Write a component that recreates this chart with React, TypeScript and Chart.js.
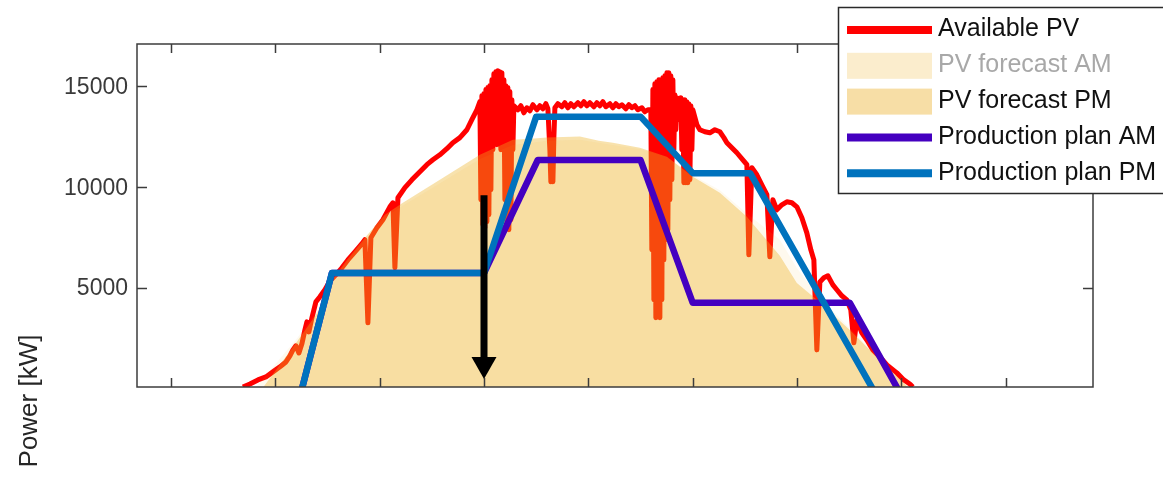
import React, { useEffect, useRef } from "react";
import { Chart, registerables } from "chart.js";

Chart.register(...registerables);

// ---- data (time in hours, power in kW) ----
const seriesLabels = [
  "Available PV",
  "PV forecast AM",
  "PV forecast PM",
  "Production plan AM",
  "Production plan PM",
];

const pvTimes = [
  // morning rise
  5.38, 5.514, 5.667, 5.82, 5.954, 6.089, 6.204, 6.28, 6.338, 6.395, 6.453, 6.51, 6.568, 6.606, 6.644, 6.702,
  6.778, 6.855, 6.951, 7.047, 7.162, 7.277, 7.391, 7.526, 7.66, 7.717, 7.775, 7.832, 7.947, 8.062, 8.196, 8.254,
  8.292, 8.35, 8.484, 8.618, 8.771, 8.905, 9.02, 9.154, 9.288, 9.403, 9.538, 9.672, 9.767, 9.863,
  // first cloud burst
  9.921, 9.94, 9.959, 9.978, 9.997, 10.017, 10.036, 10.055, 10.074, 10.093, 10.112, 10.132, 10.151, 10.17,
  10.189, 10.208, 10.227, 10.246, 10.266, 10.285, 10.304, 10.323, 10.342, 10.361, 10.381, 10.4, 10.419, 10.438,
  10.457, 10.476, 10.495, 10.515, 10.534, 10.553, 10.572,
  // plateau
  10.649, 10.706, 10.764, 10.821, 10.879, 10.936, 11.013, 11.07, 11.128, 11.185, 11.224, 11.262, 11.281, 11.3,
  11.32, 11.339, 11.358, 11.415, 11.492, 11.549, 11.607, 11.664, 11.722, 11.799, 11.856, 11.914, 11.971, 12.028,
  12.105, 12.163, 12.22, 12.278, 12.335, 12.412, 12.469, 12.527, 12.584, 12.642, 12.718, 12.776, 12.833, 12.891,
  12.948, 13.025, 13.082, 13.14,
  // second cloud burst
  13.197, 13.216, 13.236, 13.255, 13.274, 13.293, 13.312, 13.331, 13.351, 13.37, 13.389, 13.408, 13.427, 13.446,
  13.466, 13.485, 13.504, 13.523, 13.542, 13.561, 13.58, 13.6, 13.619, 13.638, 13.657, 13.676, 13.695, 13.715,
  13.734, 13.753, 13.772, 13.791, 13.81, 13.83, 13.849, 13.868, 13.887, 13.906, 13.925, 13.945, 13.964, 13.983,
  14.002,
  // afternoon decline
  14.079, 14.136, 14.232, 14.328, 14.424, 14.519, 14.596, 14.654, 14.749, 14.845, 14.96, 15.037, 15.075, 15.133,
  15.228, 15.343, 15.42, 15.477, 15.535, 15.612, 15.707, 15.803, 15.899, 15.995, 16.091, 16.186, 16.263, 16.321,
  16.378, 16.436, 16.512, 16.589, 16.685, 16.761, 16.857, 16.953, 17.029, 17.087, 17.144, 17.24, 17.336, 17.451,
  17.585, 17.738, 17.911, 18.045, 18.16, 18.217,
];
const pvPower = [
  // morning rise
  100, 250, 450, 600, 850, 1100, 1340, 1640, 1940, 2140, 1790, 2240, 2930, 3330, 2830, 3530,
  4320, 4570, 4920, 5360, 5660, 6010, 6400, 6800, 7200, 7400, 3280, 7500, 7990, 8390, 9030, 9230,
  6010, 9480, 9980, 10370, 10770, 11120, 11360, 11610, 11910, 12210, 12460, 12850, 13350, 13840,
  // first cloud burst
  14240, 9380, 14540, 8140, 14630, 7990, 14840, 8290, 14940, 8640, 15030, 9880, 15330, 11860,
  15630, 12360, 15730, 12110, 15780, 12600, 15730, 11860, 15680, 12850, 15330, 9380, 15030, 8140,
  14940, 7890, 14740, 8390, 14340, 11860, 14040,
  // plateau
  13840, 14040, 13690, 13940, 13790, 14090, 13840, 14040, 13890, 14140, 13890, 11860, 10270, 12000,
  10270, 12500, 13940, 14140, 13990, 14190, 13940, 14140, 13990, 14190, 14040, 14240, 14040, 14190,
  13990, 14190, 14040, 14240, 13990, 14140, 13940, 14140, 13990, 14090, 13890, 14090, 13940, 14040,
  13840, 13940, 13740, 13840,
  // second cloud burst
  13840, 6900, 14840, 4420, 15130, 3530, 15230, 3920, 15330, 3530, 15330, 4420, 15430, 6400,
  15530, 7400, 15680, 7890, 15680, 9380, 15530, 10370, 15330, 11860, 14590, 12850, 14440, 13350,
  14340, 13600, 14440, 11860, 14340, 10220, 14340, 10220, 14240, 10220, 14140, 10370, 14040, 11860,
  13840,
  // afternoon decline
  13100, 12850, 12750, 12700, 12850, 12750, 12460, 12210, 11960, 11710, 11360, 11120, 6650, 10970,
  10620, 10020, 9630, 6550, 9380, 8880, 9130, 9280, 9230, 9030, 8490, 7740, 6900, 6400,
  1940, 5310, 5510, 5610, 5160, 4920, 4620, 4420, 3920, 2290, 3430, 2780, 2430, 1940,
  1590, 1150, 800, 450, 250, 100,
];

const forecastAMTimes = [
  5.6, 6.414, 6.817, 7.047, 7.372, 7.717, 8.1, 8.445, 9.154, 9.921, 10.553, 11.204, 11.837, 12.469, 12.986,
  13.504, 14.002, 14.519, 15.037, 15.669, 15.995, 16.378, 17.01, 17.393, 17.776, 18.2,
];
const forecastAMPower = [
  0, 2500, 3900, 5200, 6300, 7400, 8500, 9100, 10200, 11400, 12100, 12300, 12350, 12100, 11900,
  11500, 10600, 9850, 8700, 7400, 6000, 4700, 3000, 2000, 1000, 0,
];

const forecastPMTimes = [
  5.744, 6.414, 6.817, 7.047, 7.372, 7.717, 8.1, 8.445, 9.154, 9.921, 10.553, 10.9, 11.204, 11.837, 12.2,
  12.469, 12.986, 13.504, 14.002, 14.519, 15.037, 15.669, 15.995, 16.378, 17.01, 17.393, 17.776, 18.16,
];
const forecastPMPower = [
  0, 2340, 3820, 5260, 6400, 7500, 8640, 9230, 10370, 11610, 12360, 12400, 12460, 12510, 12300,
  12210, 11960, 11510, 10520, 9730, 8540, 6600, 5260, 4420, 2930, 1940, 950, 0,
];

const planAMTimes = [6.51, 7.085, 10.0, 11.03, 13.0, 14.0, 17.01, 17.93];
const planAMPower = [0, 5750, 5750, 11350, 11350, 4270, 4270, 0];

const planPMTimes = [6.51, 7.085, 10.0, 11.0, 13.0, 14.0, 15.1, 17.45];
const planPMPower = [0, 5750, 5750, 13500, 13500, 10700, 10700, 0];

const xTickValues = [4, 6, 8, 10, 12, 14, 16, 18, 20];
const yTickValues = [5000, 10000, 15000];
const yTickLabels = ["5000", "10000", "15000"];
const yAxisTitle = "Power [kW]";

const arrowTime = 10;
const arrowFromPower = 9600;
const arrowToPower = 500;

const toPoints = (xs: number[], ys: number[]) => xs.map((x, i) => ({ x, y: ys[i] }));

const FONT = '"Liberation Sans", Arial, Helvetica, sans-serif';

const legendSwatches = [
  { kind: "line", color: "#ff0000" },
  { kind: "box", color: "rgb(251,237,205)" },
  { kind: "box", color: "rgb(247,222,166)" },
  { kind: "line", color: "#4400c0" },
  { kind: "line", color: "#0072bd" },
];
const legendTextColors = ["#111", "#a8a8a8", "#111", "#111", "#111"];

const decorPlugin = {
  id: "decor",
  afterDatasetsDraw(chart: any) {
    const { ctx, chartArea: a, scales } = chart;
    const x = scales.x;
    const y = scales.y;
    ctx.save();

    // arrow
    const ax = Math.round(x.getPixelForValue(arrowTime));
    const ay1 = y.getPixelForValue(arrowFromPower);
    const ay2 = y.getPixelForValue(arrowToPower);
    const headH = 22;
    const headW = 25;
    ctx.strokeStyle = "#000";
    ctx.lineWidth = 7;
    ctx.lineCap = "butt";
    ctx.beginPath();
    ctx.moveTo(ax, ay1);
    ctx.lineTo(ax, ay2 - headH + 2);
    ctx.stroke();
    ctx.fillStyle = "#000";
    ctx.beginPath();
    ctx.moveTo(ax - headW / 2, ay2 - headH);
    ctx.lineTo(ax + headW / 2, ay2 - headH);
    ctx.lineTo(ax, ay2);
    ctx.closePath();
    ctx.fill();

    // frame
    ctx.strokeStyle = "#3c3c3c";
    ctx.lineWidth = 1.5;
    ctx.strokeRect(a.left, a.top, a.right - a.left, a.bottom - a.top);

    // inward ticks on all four sides
    ctx.beginPath();
    for (const t of xTickValues) {
      const px = Math.round(x.getPixelForValue(t)) + 0.5;
      ctx.moveTo(px, a.bottom);
      ctx.lineTo(px, a.bottom - 9);
      ctx.moveTo(px, a.top);
      ctx.lineTo(px, a.top + 9);
    }
    for (const t of yTickValues) {
      const py = Math.round(y.getPixelForValue(t)) + 0.5;
      ctx.moveTo(a.left, py);
      ctx.lineTo(a.left + 10, py);
      ctx.moveTo(a.right, py);
      ctx.lineTo(a.right - 10, py);
    }
    ctx.stroke();

    // y tick labels
    ctx.fillStyle = "#3a3a3a";
    ctx.font = `23px ${FONT}`;
    ctx.textAlign = "right";
    ctx.textBaseline = "middle";
    yTickValues.forEach((t, i) => {
      ctx.fillText(yTickLabels[i], a.left - 9, y.getPixelForValue(t) + 1);
    });

    // y axis title
    ctx.save();
    ctx.translate(30, 401);
    ctx.rotate(-Math.PI / 2);
    ctx.textAlign = "center";
    ctx.textBaseline = "middle";
    ctx.font = `26px ${FONT}`;
    ctx.fillStyle = "#262626";
    ctx.fillText(yAxisTitle, 0, 0);
    ctx.restore();

    // legend box
    const lx = 838.5;
    const ly = 7.5;
    ctx.fillStyle = "#fff";
    ctx.fillRect(lx, ly, 400, 186);
    ctx.strokeStyle = "#2a2a2a";
    ctx.lineWidth = 1.5;
    ctx.strokeRect(lx, ly, 400, 186);
    const datasets = chart.data.datasets;
    ctx.font = `25px ${FONT}`;
    ctx.textAlign = "left";
    ctx.textBaseline = "middle";
    datasets.forEach((ds: any, i: number) => {
      const rowY = 30 + i * 35.8;
      const sw = legendSwatches[i];
      if (sw.kind === "line") {
        ctx.strokeStyle = sw.color;
        ctx.lineWidth = 8;
        ctx.lineCap = "butt";
        ctx.beginPath();
        ctx.moveTo(847, rowY);
        ctx.lineTo(932, rowY);
        ctx.stroke();
      } else {
        ctx.fillStyle = sw.color;
        ctx.fillRect(847, rowY - 13, 85, 26);
      }
      ctx.fillStyle = legendTextColors[i];
      ctx.fillText(ds.label, 938, rowY - 0.5);
    });

    ctx.restore();
  },
};

export default function App() {
  const canvasRef = useRef<HTMLCanvasElement | null>(null);

  useEffect(() => {
    const canvas = canvasRef.current;
    if (!canvas) return;
    const chart = new Chart(canvas, {
      type: "line",
      data: {
        datasets: [
          {
            label: seriesLabels[0],
            data: toPoints(pvTimes, pvPower),
            borderColor: "#ff0000",
            borderWidth: 5,
            borderJoinStyle: "round",
            pointRadius: 0,
            fill: false,
            tension: 0,
            order: 5,
            clip: 0,
          },
          {
            label: seriesLabels[1],
            data: toPoints(forecastAMTimes, forecastAMPower),
            borderColor: "transparent",
            borderWidth: 0,
            backgroundColor: "rgba(237,177,32,0.08)",
            pointRadius: 0,
            fill: "origin",
            tension: 0,
            order: 4,
          },
          {
            label: seriesLabels[2],
            data: toPoints(forecastPMTimes, forecastPMPower),
            borderColor: "transparent",
            borderWidth: 0,
            backgroundColor: "rgba(237,177,32,0.37)",
            pointRadius: 0,
            fill: "origin",
            tension: 0,
            order: 3,
          },
          {
            label: seriesLabels[3],
            data: toPoints(planAMTimes, planAMPower),
            borderColor: "#4400c0",
            borderWidth: 6.5,
            borderJoinStyle: "round",
            pointRadius: 0,
            fill: false,
            tension: 0,
            order: 2,
            clip: 0,
          },
          {
            label: seriesLabels[4],
            data: toPoints(planPMTimes, planPMPower),
            borderColor: "#0072bd",
            borderWidth: 6.5,
            borderJoinStyle: "round",
            pointRadius: 0,
            fill: false,
            tension: 0,
            order: 1,
            clip: 0,
          },
        ],
      } as any,
      options: {
        responsive: false,
        animation: false,
        events: [],
        layout: { padding: { left: 137, right: 70, top: 44, bottom: 92 } },
        scales: {
          x: { type: "linear", min: 3.35, max: 21.67, display: false },
          y: { type: "linear", min: 100, max: 17100, display: false },
        },
        plugins: {
          legend: { display: false },
          tooltip: { enabled: false },
        },
      } as any,
      plugins: [decorPlugin],
    });
    return () => chart.destroy();
  }, []);

  return (
    <div style={{ position: "fixed", left: 0, top: 0, width: 1163, height: 479, background: "#fff" }}>
      <canvas ref={canvasRef} width={1163} height={479} style={{ display: "block" }} />
    </div>
  );
}
